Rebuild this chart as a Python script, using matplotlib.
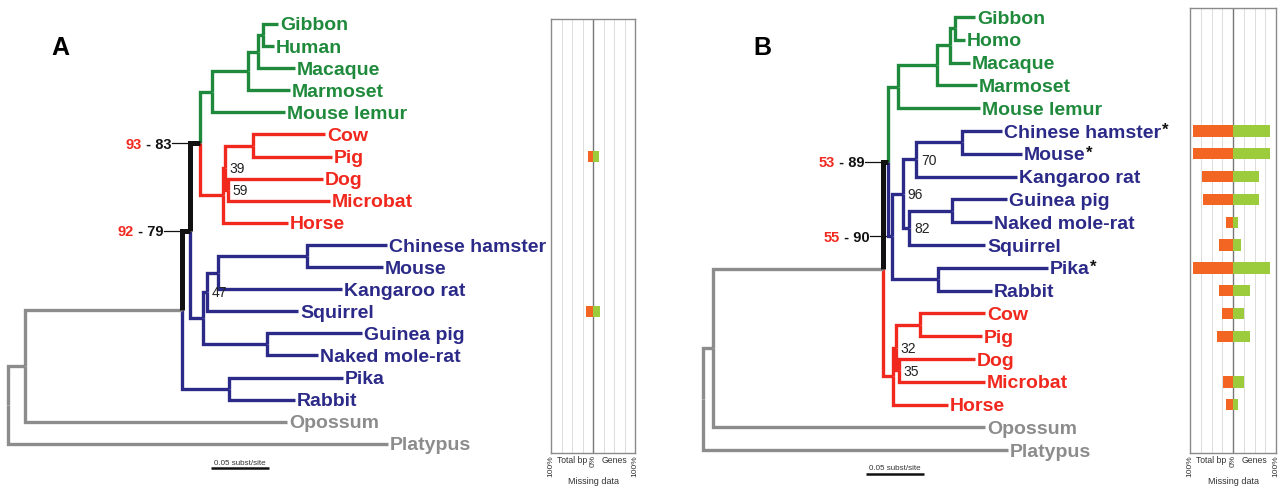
import matplotlib
matplotlib.use("Agg")
import matplotlib.pyplot as plt

plt.rcParams['font.family'] = ['Liberation Sans', 'DejaVu Sans']

GREEN = "#1f8a3c"
RED = "#f0281e"
BLUE = "#2c2a88"
GREY = "#8c8c8c"
BLACK = "#111111"
ORANGE = "#f26522"
LIME = "#9ccb3b"
group_color = {"pri": GREEN, "lau": RED, "gli": BLUE, "out": GREY, "bb": BLACK}

# ---------------- tree A (depth in subst/site from the root) ----------------
a_leaves = ["Gibbon", "Human", "Macaque", "Marmoset", "Mouse lemur",
            "Cow", "Pig", "Dog", "Microbat", "Horse",
            "Chinese hamster", "Mouse", "Kangaroo rat", "Squirrel",
            "Guinea pig", "Naked mole-rat", "Pika", "Rabbit",
            "Opossum", "Platypus"]
a_leaf_depth = [0.2328, 0.2293, 0.2474, 0.2431, 0.2388,
                0.2733, 0.2793, 0.2716, 0.2776, 0.2414,
                0.3267, 0.3233, 0.2879, 0.2500,
                0.3052, 0.2672, 0.2888, 0.2474,
                0.2405, 0.3276]
a_leaf_group = ["pri"] * 5 + ["lau"] * 5 + ["gli"] * 8 + ["out"] * 2
# internal nodes: id, depth, children (top to bottom), stem colour, support
a_nodes = [
    ("hom", 0.2198, ["Gibbon", "Human"], "pri", ""),
    ("cat", 0.2155, ["hom", "Macaque"], "pri", ""),
    ("ant", 0.2069, ["cat", "Marmoset"], "pri", ""),
    ("pri", 0.1759, ["ant", "Mouse lemur"], "pri", ""),
    ("cp", 0.2112, ["Cow", "Pig"], "lau", ""),
    ("dm", 0.1897, ["Dog", "Microbat"], "lau", "59"),
    ("n39", 0.1871, ["cp", "dm"], "lau", "39"),
    ("lau", 0.1853, ["n39", "Horse"], "lau", ""),
    ("pl", 0.1655, ["pri", "lau"], "bb", ("93", "83")),
    ("hm", 0.2578, ["Chinese hamster", "Mouse"], "gli", ""),
    ("mk", 0.1810, ["hm", "Kangaroo rat"], "gli", ""),
    ("n47", 0.1716, ["mk", "Squirrel"], "gli", "47"),
    ("gn", 0.2233, ["Guinea pig", "Naked mole-rat"], "gli", ""),
    ("rod", 0.1681, ["n47", "gn"], "gli", ""),
    ("bor", 0.1569, ["pl", "rod"], "bb", ("92", "79")),
    ("lag", 0.1905, ["Pika", "Rabbit"], "gli", ""),
    ("eut", 0.1500, ["bor", "lag"], "out", ""),
    ("the", 0.0147, ["eut", "Opossum"], "out", ""),
    ("root", 0.0, ["the", "Platypus"], "out", ""),
]
a_stars = []
# missing data (%) per leaf row
a_missing_bp = [0, 0, 0, 0, 0, 0, 12, 0, 0, 0, 0, 0, 0, 17, 0, 0, 0, 0, 0, 0]
a_missing_genes = [0, 0, 0, 0, 0, 0, 15, 0, 0, 0, 0, 0, 0, 17, 0, 0, 0, 0, 0, 0]

# ---------------- tree B ----------------
b_leaves = ["Gibbon", "Homo", "Macaque", "Marmoset", "Mouse lemur",
            "Chinese hamster", "Mouse", "Kangaroo rat", "Guinea pig",
            "Naked mole-rat", "Squirrel", "Pika", "Rabbit",
            "Cow", "Pig", "Dog", "Microbat", "Horse",
            "Opossum", "Platypus"]
b_leaf_depth = [0.2345, 0.2260, 0.2300, 0.2360, 0.2390,
                0.2580, 0.2750, 0.2710, 0.2620,
                0.2490, 0.2430, 0.2970, 0.2490,
                0.2430, 0.2405, 0.2345, 0.2430, 0.2110,
                0.2430, 0.2630]
b_leaf_group = ["pri"] * 5 + ["gli"] * 8 + ["lau"] * 5 + ["out"] * 2
b_nodes = [
    ("hom", 0.2170, ["Gibbon", "Homo"], "pri", ""),
    ("cat", 0.2130, ["hom", "Macaque"], "pri", ""),
    ("ant", 0.2017, ["cat", "Marmoset"], "pri", ""),
    ("pri", 0.1680, ["ant", "Mouse lemur"], "pri", ""),
    ("hm", 0.2230, ["Chinese hamster", "Mouse"], "gli", ""),
    ("myo", 0.1840, ["hm", "Kangaroo rat"], "gli", "70"),
    ("gn", 0.2150, ["Guinea pig", "Naked mole-rat"], "gli", ""),
    ("n82", 0.1780, ["gn", "Squirrel"], "gli", "82"),
    ("rod", 0.1720, ["myo", "n82"], "gli", "96"),
    ("lag", 0.2026, ["Pika", "Rabbit"], "gli", ""),
    ("gli", 0.1630, ["rod", "lag"], "gli", ("55", "90")),
    ("eua", 0.1595, ["pri", "gli"], "bb", ("53", "89")),
    ("cp", 0.1870, ["Cow", "Pig"], "lau", ""),
    ("dm", 0.1690, ["Dog", "Microbat"], "lau", "35"),
    ("n32", 0.1660, ["cp", "dm"], "lau", "32"),
    ("lau", 0.1640, ["n32", "Horse"], "lau", ""),
    ("eut", 0.1550, ["eua", "lau"], "out", ""),
    ("the", 0.0086, ["eut", "Opossum"], "out", ""),
    ("root", 0.0, ["the", "Platypus"], "out", ""),
]
b_stars = ["Chinese hamster", "Mouse", "Pika"]
b_missing_bp = [0, 0, 0, 0, 0, 93, 93, 71, 69, 17, 33, 93, 33, 26, 38, 0, 24, 17, 0, 0]
b_missing_genes = [0, 0, 0, 0, 0, 86, 86, 60, 60, 12, 19, 86, 40, 26, 40, 0, 26, 12, 0, 0]

# ---------------- layout (pixels) ----------------
W, H = 1282, 494
PX_PER_UNIT = 1160.0  # 0.05 subst/site ~ 58 px


def px_axes(fig, x0, y0, x1, y1):
    return fig.add_axes([x0 / W, 1 - y1 / H, (x1 - x0) / W, (y1 - y0) / H])


def draw_tree(ax, leaves, depth, groups, nodes, stars, leader_px=18):
    pos = {}
    for i, name in enumerate(leaves):
        pos[name] = (depth[i], i, groups[i])
    for nid, d, kids, grp, sup in nodes:
        ys = [pos[k][1] for k in kids]
        pos[nid] = (d, (ys[0] + ys[-1]) / 2.0, grp)
    parent = {}
    for nid, d, kids, grp, sup in nodes:
        px, py, _ = pos[nid]
        for k in kids:
            parent[k] = nid
            cx, cy, cg = pos[k]
            thick = cg == "bb"
            ax.plot([px, px, cx], [py, cy, cy], color=group_color[cg],
                    lw=3.6 if thick else 2.4, zorder=3 if thick else 2,
                    solid_joinstyle='miter', solid_capstyle='butt')
    # leaf labels
    for i, name in enumerate(leaves):
        t = ax.annotate(name, (depth[i], i), xytext=(1.5, 0), textcoords='offset points',
                        ha='left', va='center_baseline', fontsize=14, weight='bold',
                        color=group_color[groups[i]])
        if name in stars:
            ax.annotate("*", xy=(1, 1), xycoords=t, xytext=(0.5, 1), textcoords='offset points',
                        ha='left', va='top', fontsize=12, weight='bold', color=BLACK)
    # support values
    lead = leader_px / PX_PER_UNIT
    for nid, d, kids, grp, sup in nodes:
        if not sup:
            continue
        x, y, _ = pos[nid]
        if isinstance(sup, tuple):
            xp = pos[parent[nid]][0]
            ax.plot([xp - lead, xp], [y, y], color=BLACK, lw=0.9, zorder=1)
            t = ax.annotate(" - " + sup[1], (xp - lead, y), xytext=(-0.5, 0),
                            textcoords='offset points', ha='right', va='center_baseline',
                            fontsize=10.5, weight='bold', color=BLACK)
            ax.annotate(sup[0], xy=(0, 0), xycoords=t, ha='right', va='bottom',
                        fontsize=10.5, weight='bold', color=RED)
        else:
            ax.annotate(sup, (x, y), xytext=(3.5, 0), textcoords='offset points',
                        ha='left', va='center_baseline', fontsize=10, color="#222222")


def tree_axes(fig, x0, x1, root_px, row0_px, row_px):
    ax = px_axes(fig, x0, 0, x1, H)
    ax.set_xlim((x0 - root_px) / PX_PER_UNIT, (x1 - root_px) / PX_PER_UNIT)
    ax.set_ylim((H - row0_px) / row_px, (0 - row0_px) / row_px)
    ax.axis('off')
    return ax


def scale_bar(ax, x_start, y_row):
    ax.plot([x_start, x_start + 0.05], [y_row, y_row], color=BLACK, lw=1.8,
            solid_capstyle='butt')
    ax.annotate("0.05 subst/site", (x_start + 0.025, y_row), xytext=(0, 1.2),
                textcoords='offset points', ha='center', va='bottom', fontsize=5.8,
                color="#333333")


def bar_panel(fig, x0, y0, x1, y1, row0_px, row_px, bp, genes):
    ax = px_axes(fig, x0, y0, x1, y1)
    rows = list(range(len(bp)))
    ax.set_xlim(-100, 100)
    ax.set_ylim((y1 - row0_px) / row_px, (y0 - row0_px) / row_px)
    ax.barh(rows, [-v for v in bp], height=0.5, color=ORANGE, zorder=3)
    ax.barh(rows, genes, height=0.5, color=LIME, zorder=3)
    ax.set_xticks([-75, -50, -25, 25, 50, 75], minor=True)
    ax.grid(which='minor', axis='x', color="#dcdcdc", lw=0.7)
    ax.axvline(0, color="#777777", lw=1.0, zorder=2)
    ax.set_yticks([])
    ax.set_xticks([-100, 0, 100])
    ax.set_xticklabels(["100%", "0%", "100%"], rotation=90, fontsize=6, color="#333333")
    ax.tick_params(axis='x', which='both', length=0, pad=1.5)
    for s in ax.spines.values():
        s.set_color("#8a8a8a")
        s.set_linewidth(1.0)
    ax.annotate("Total bp", xy=(-50, 0), xycoords=('data', 'axes fraction'), xytext=(0, -2),
                textcoords='offset points', ha='center', va='top', fontsize=6.2, color="#333333")
    ax.annotate("Genes", xy=(50, 0), xycoords=('data', 'axes fraction'), xytext=(0, -2),
                textcoords='offset points', ha='center', va='top', fontsize=6.2, color="#333333")
    ax.annotate("Missing data", xy=(0, 0), xycoords=('data', 'axes fraction'), xytext=(0, -17),
                textcoords='offset points', ha='center', va='top', fontsize=6.5, color="#333333")
    return ax


fig = plt.figure(figsize=(W / 100, H / 100), dpi=100)

# panel A
axA = tree_axes(fig, 0, 545, root_px=8, row0_px=24, row_px=22.1)
draw_tree(axA, a_leaves, a_leaf_depth, a_leaf_group, a_nodes, a_stars)
scale_bar(axA, 0.1750, 20.1)
bar_panel(fig, 551, 19, 635, 453, 24, 22.1, a_missing_bp, a_missing_genes)
fig.text(60 / W, 1 - 48 / H, "A", fontsize=18, weight='bold', ha='center', va='center')

# panel B
axB = tree_axes(fig, 690, 1185, root_px=703, row0_px=17, row_px=22.8)
draw_tree(axB, b_leaves, b_leaf_depth, b_leaf_group, b_nodes, b_stars)
scale_bar(axB, 0.1405, 20.05)
bar_panel(fig, 1190, 8, 1276, 453, 17, 22.8, b_missing_bp, b_missing_genes)
fig.text(762 / W, 1 - 48 / H, "B", fontsize=18, weight='bold', ha='center', va='center')

fig.savefig("out.png", dpi=100)
